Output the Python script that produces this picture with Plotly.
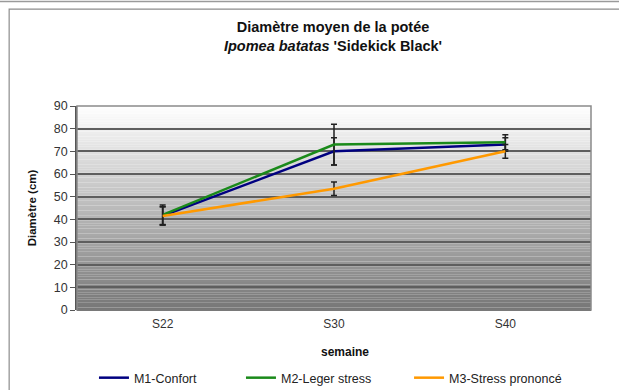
import plotly.graph_objects as go

# Weekly mean pot diameter (cm) per irrigation treatment
weeks = ["S22", "S30", "S40"]
m1_confort = [41.5, 70.0, 73.0]
m2_leger = [42.0, 73.0, 74.0]
m3_stress = [41.5, 53.5, 70.0]
m1_err = [4.0, 6.0, 3.0]
m2_err = [4.3, 9.0, 3.3]
m3_err = [4.0, 3.0, 3.0]

series_names = ["M1-Confort", "M2-Leger stress", "M3-Stress prononcé"]
series_values = [m1_confort, m2_leger, m3_stress]
series_errors = [m1_err, m2_err, m3_err]
series_colors = ["#000080", "#1a8a1a", "#FF9900"]
legend_ids = ["legend", "legend2", "legend3"]

y_ticks = [0, 10, 20, 30, 40, 50, 60, 70, 80, 90]

FONT = "Arial, Liberation Sans, sans-serif"

fig = go.Figure()
for name, vals, errs, col, lg in zip(series_names, series_values, series_errors,
                                     series_colors, legend_ids):
    fig.add_trace(go.Scatter(
        x=weeks, y=vals, name=name, mode="lines", legend=lg, showlegend=True,
        line=dict(color=col, width=2.5),
        error_y=dict(type="data", array=errs, visible=True,
                     color="#202020", thickness=1.5, width=3),
    ))

# Vertical white-to-grey gradient behind the plot area
shapes = []
n_bands = 80
for i in range(n_bands):
    f = (i + 0.5) / n_bands  # 0 at bottom, 1 at top
    g = int(round(0x76 + (0xFF - 0x76) * f))
    shapes.append(dict(
        type="rect", xref="x domain", yref="y domain",
        x0=0, x1=1, y0=i / n_bands, y1=(i + 1) / n_bands,
        fillcolor=f"rgb({g},{g},{g})", line=dict(width=0), layer="below",
    ))
# Plot area border
shapes.append(dict(type="rect", xref="x domain", yref="y domain",
                   x0=0, x1=1, y0=0, y1=1,
                   line=dict(color="#8a8a8a", width=1.5), layer="above"))
# Outer chart frame
shapes.append(dict(type="rect", xref="paper", yref="paper",
                   x0=-0.132, x1=1.2, y0=-0.5, y1=1.475,
                   line=dict(color="#8c8c8c", width=1.2)))
shapes.append(dict(type="line", xref="paper", yref="paper",
                   x0=-0.2, x1=1.2, y0=1.512, y1=1.512,
                   line=dict(color="#9a9a9a", width=1.5)))

legend_style = dict(
    orientation="h", y=-0.26, yanchor="top",
    font=dict(size=12.5, color="#222"), bgcolor="rgba(0,0,0,0)",
)

fig.update_layout(
    width=619, height=390,
    margin=dict(l=77, r=28, t=106, b=80, autoexpand=False),
    paper_bgcolor="white",
    plot_bgcolor="rgba(0,0,0,0)",
    showlegend=True,
    font=dict(family=FONT, size=12, color="#222"),
    title=dict(
        text="<b>Diamètre moyen de la potée</b><br><b><i>Ipomea batatas</i> 'Sidekick Black'</b>",
        x=0.538, xanchor="center", y=0.918, yanchor="top",
        font=dict(family=FONT, size=14.5, color="#111"),
    ),
    xaxis=dict(
        showgrid=False, showline=False, ticks="",
        tickfont=dict(size=12, color="#333"), ticklabelstandoff=5,
        range=[-0.5, 2.5],
    ),
    yaxis=dict(
        range=[0, 90], tickvals=y_ticks,
        showgrid=True, gridcolor="#5e5e5e", gridwidth=1.5,
        showline=True, linecolor="#555", linewidth=1.5,
        ticks="outside", ticklen=5, tickcolor="#555",
        tickfont=dict(size=12.5, color="#333"),
        title=dict(text="<b>Diamètre (cm)</b>", font=dict(size=11.5, color="#111"), standoff=15),
        zeroline=True, zerolinecolor="#444", zerolinewidth=1.5,
    ),
    annotations=[dict(
        text="<b>semaine</b>", xref="paper", yref="paper",
        x=0.522, y=-0.206, xanchor="center", yanchor="middle",
        showarrow=False, font=dict(size=12, color="#111"),
    )],
    legend=dict(x=0.033, xanchor="left", **legend_style),
    legend2=dict(x=0.319, xanchor="left", **legend_style),
    legend3=dict(x=0.646, xanchor="left", **legend_style),
    shapes=shapes,
)

fig.write_html("out.html")
